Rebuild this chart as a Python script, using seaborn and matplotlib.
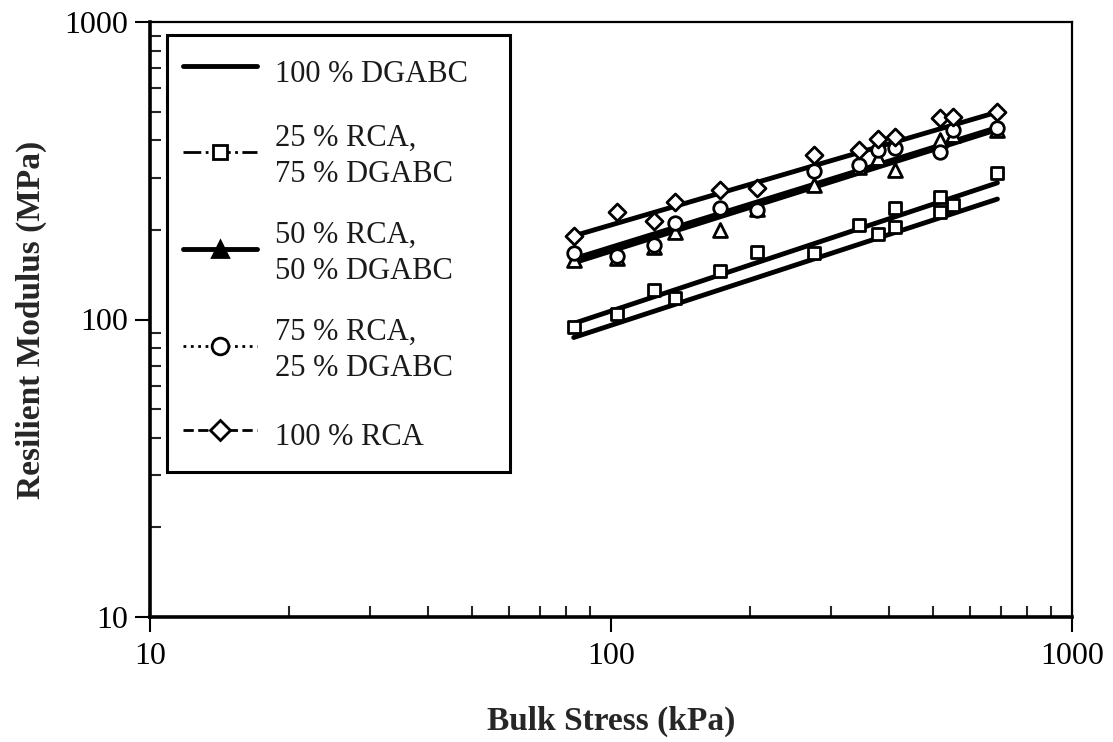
import matplotlib
matplotlib.use("Agg")
import matplotlib.pyplot as plt
from matplotlib.lines import Line2D
import seaborn as sns
import pandas as pd

# bulk stress (kPa) and resilient modulus (MPa)
x_25 = [83, 103, 124, 138, 172, 207, 276, 345, 379, 414, 414, 517, 517, 552, 689]
mr_25 = [94, 104, 126, 118, 146, 169, 167, 208, 194, 237, 205, 258, 230, 243, 311]

x_upper = [83, 103, 124, 138, 172, 207, 276, 345, 379, 414, 517, 552, 689]
mr_50 = [158, 161, 175, 197, 200, 235, 283, 326, 349, 318, 401, 417, 434]
mr_75 = [167, 163, 178, 211, 237, 233, 316, 331, 371, 377, 366, 434, 440]
mr_100 = [191, 230, 214, 248, 272, 277, 357, 371, 404, 411, 476, 479, 498]

# end points of the fitted power-law lines
fit_x = [83, 689]
fit_dgabc = [87, 254]
fit_25 = [97, 288]
fit_50 = [155, 435]
fit_75 = [160, 442]
fit_100 = [191, 498]

labels = ["100 % DGABC", "25 % RCA,\n75 % DGABC", "50 % RCA,\n50 % DGABC",
          "75 % RCA,\n25 % DGABC", "100 % RCA"]

sns.set_theme(style="ticks")
plt.rcParams["font.family"] = ["Liberation Serif", "DejaVu Serif"]

fig = plt.figure(figsize=(11.13, 7.42), dpi=100)
ax = fig.add_axes([150 / 1113, 1 - 617 / 742, 922 / 1113, 595 / 742])

# fitted lines
for fy in [fit_dgabc, fit_25, fit_50, fit_75, fit_100]:
    sns.lineplot(x=fit_x, y=fy, color="black", lw=3.5, ax=ax, zorder=2)

# measured points, hollow markers
pts = [(x_25, mr_25, "s", 75), (x_upper, mr_50, "^", 100),
       (x_upper, mr_75, "o", 95), (x_upper, mr_100, "D", 75)]
for xs, ys, m, s in pts:
    sns.scatterplot(x=xs, y=ys, marker=m, s=s, color="white",
                    edgecolor="black", linewidth=2, ax=ax, zorder=3)

ax.set_xscale("log")
ax.set_yscale("log")
ax.set_xlim(10, 1000)
ax.set_ylim(10, 1000)
ax.set_xticks([10, 100, 1000])
ax.set_xticklabels(["10", "100", "1000"])
ax.set_yticks([10, 100, 1000])
ax.set_yticklabels(["10", "100", "1000"])

ax.tick_params(which="major", direction="out", length=11, width=1.5,
               labelsize=23, colors="black")
ax.tick_params(axis="x", which="major", pad=7)
ax.tick_params(axis="y", which="major", pad=5)
ax.tick_params(which="minor", direction="in", length=8, width=1.5)

for side in ["left", "bottom"]:
    ax.spines[side].set_linewidth(2.6)
for side in ["top", "right"]:
    ax.spines[side].set_linewidth(1.6)
for sp in ax.spines.values():
    sp.set_color("black")

ax.set_xlabel("Bulk Stress (kPa)", fontsize=24, fontweight="bold", labelpad=25)
ax.set_ylabel("Resilient Modulus (MPa)", fontsize=24, fontweight="bold", labelpad=12)

handles = [
    Line2D([], [], color="black", lw=3.5, ls="-"),
    Line2D([], [], color="black", lw=2, ls="-.", marker="s", ms=10,
           mfc="white", mec="black", mew=2),
    Line2D([], [], color="black", lw=3.5, ls="-", marker="^", ms=12,
           mfc="black", mec="black", mew=2),
    Line2D([], [], color="black", lw=2, ls=":", marker="o", ms=12,
           mfc="white", mec="black", mew=2),
    Line2D([], [], color="black", lw=2, ls="--", marker="D", ms=10,
           mfc="white", mec="black", mew=2),
]
leg = ax.legend(handles, labels, loc="upper left",
                bbox_to_anchor=(17 / 922, 0, 343 / 922, 1 - 13 / 595),
                mode="expand", fontsize=22, frameon=True, fancybox=False,
                framealpha=1, edgecolor="black", handlelength=2.4,
                handleheight=1.7, handletextpad=0.6, labelspacing=1.04,
                borderpad=0.53, borderaxespad=0)
leg.get_frame().set_linewidth(2.2)
for t in leg.get_texts():
    t.set_linespacing(1.32)
    t.set_color("#1a1a1a")

fig.savefig("out.png", dpi=100, facecolor="white")
